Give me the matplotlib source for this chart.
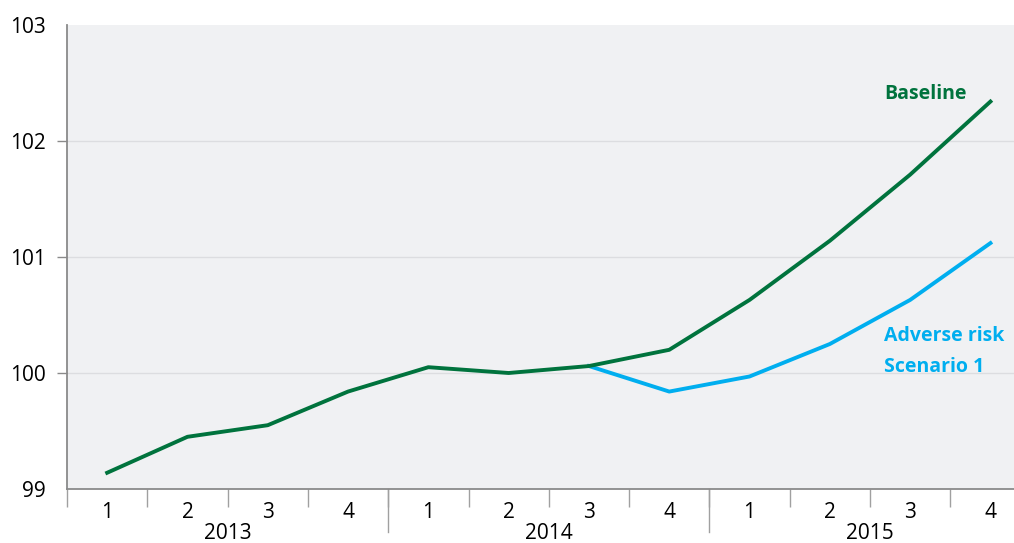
import matplotlib.pyplot as plt
from matplotlib import transforms

plt.rcParams['font.family'] = ['Open Sans', 'DejaVu Sans']

quarters = ["1", "2", "3", "4"] * 3
years = ["2013", "2014", "2015"]
baseline = [99.14, 99.45, 99.55, 99.84, 100.05, 100.0, 100.06, 100.20,
            100.63, 101.14, 101.71, 102.34]
# adverse scenario starts splitting off from 2014 Q3
adverse_x = [6, 7, 8, 9, 10, 11]
adverse = [100.06, 99.84, 99.97, 100.25, 100.63, 101.12]

green = "#00733d"
blue = "#00aeef"
grey = "#8a8a8a"
H = 543

fig = plt.figure(figsize=(10.14, 5.43), dpi=100)
ax = fig.add_axes([67 / 1014, 54 / H, 947 / 1014, 464 / H])
ax.set_facecolor("#f0f1f3")

x = list(range(len(baseline)))
ax.plot(adverse_x, adverse, color=blue, lw=2.8, zorder=3)
ax.plot(x, baseline, color=green, lw=2.8, zorder=4)

ax.set_xlim(-0.5, -0.5 + 947 / 80.3)
ax.set_ylim(99, 103)
ax.set_yticks([99, 100, 101, 102, 103])
for g in [100, 101, 102]:
    ax.axhline(g, color="#dcdde0", lw=1, zorder=1)

for s in ["top", "right"]:
    ax.spines[s].set_visible(False)
for s in ["left", "bottom"]:
    ax.spines[s].set_color(grey)
    ax.spines[s].set_linewidth(1.3)

ax.tick_params(axis="y", length=7, width=1, color=grey, pad=8, labelsize=15)
for t in (ax.yaxis.get_major_ticks()[0], ax.yaxis.get_major_ticks()[-1]):
    t.tick1line.set_visible(False)
ax.set_xticks(x)
ax.set_xticklabels(quarters)
ax.tick_params(axis="x", which="major", length=0, pad=9, labelsize=15)
ax.set_xticks([i - 0.5 for i in range(12)], minor=True)
ax.tick_params(axis="x", which="minor", length=13, width=1, color="#a0a0a0")

trans = transforms.blended_transform_factory(ax.transData, ax.transAxes)
for b in [3.5, 7.5]:
    ax.plot([b, b], [0, -0.093], transform=trans, color="#a0a0a0", lw=1, clip_on=False)
for i, yr in enumerate(years):
    ax.text(4 * i + 1.5, -0.095, yr, transform=trans, ha="center", va="center", fontsize=15)

ax.text(925, H - 94, "Baseline", transform=None, color=green, fontsize=14,
        fontweight="bold", ha="center", va="center")
ax.text(884, H - 336, "Adverse risk", transform=None, color=blue, fontsize=14,
        fontweight="bold", ha="left", va="center")
ax.text(884, H - 367, "Scenario 1", transform=None, color=blue, fontsize=14,
        fontweight="bold", ha="left", va="center")

fig.savefig("out.png", dpi=100)
